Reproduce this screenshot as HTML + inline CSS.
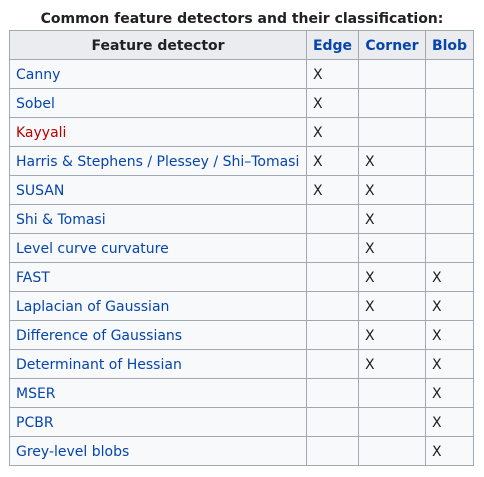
<!DOCTYPE html>
<html><head><style>
body{margin:0;background:#fff;font-family:"DejaVu Sans",sans-serif;font-size:14px;color:#202122;}
.cap{position:absolute;top:11px;left:0;width:484px;text-align:center;font-weight:bold;font-size:14px;}
table{position:absolute;left:9px;top:30px;border-collapse:collapse;background:#f8f9fa;table-layout:fixed;}
td,th{border:1px solid #a2a9b1;height:27px;padding:1px 6px 0 6px;text-align:left;}
th{background:#eaecf0;font-weight:bold;text-align:center;padding:1px 4px 0 4px;}
a{color:#0645ad;text-decoration:none;}
th a{color:#0645ad;}
.r{color:#ba0000;}
</style></head><body>
<div class="cap">Common feature detectors and their classification:</div>
<table>
<colgroup><col style="width:297px"><col style="width:52px"><col style="width:67px"><col style="width:48px"></colgroup>
<tr><th>Feature detector</th><th><a>Edge</a></th><th><a>Corner</a></th><th><a>Blob</a></th></tr>
<tr><td><a>Canny</a></td><td>X</td><td></td><td></td></tr>
<tr><td><a>Sobel</a></td><td>X</td><td></td><td></td></tr>
<tr><td><a class="r">Kayyali</a></td><td>X</td><td></td><td></td></tr>
<tr><td><a>Harris &amp; Stephens / Plessey / Shi–Tomasi</a></td><td>X</td><td>X</td><td></td></tr>
<tr><td><a>SUSAN</a></td><td>X</td><td>X</td><td></td></tr>
<tr><td><a>Shi &amp; Tomasi</a></td><td></td><td>X</td><td></td></tr>
<tr><td><a>Level curve curvature</a></td><td></td><td>X</td><td></td></tr>
<tr><td><a>FAST</a></td><td></td><td>X</td><td>X</td></tr>
<tr><td><a>Laplacian of Gaussian</a></td><td></td><td>X</td><td>X</td></tr>
<tr><td><a>Difference of Gaussians</a></td><td></td><td>X</td><td>X</td></tr>
<tr><td><a>Determinant of Hessian</a></td><td></td><td>X</td><td>X</td></tr>
<tr><td><a>MSER</a></td><td></td><td></td><td>X</td></tr>
<tr><td><a>PCBR</a></td><td></td><td></td><td>X</td></tr>
<tr><td><a>Grey-level blobs</a></td><td></td><td></td><td>X</td></tr>
</table>
</body></html>
